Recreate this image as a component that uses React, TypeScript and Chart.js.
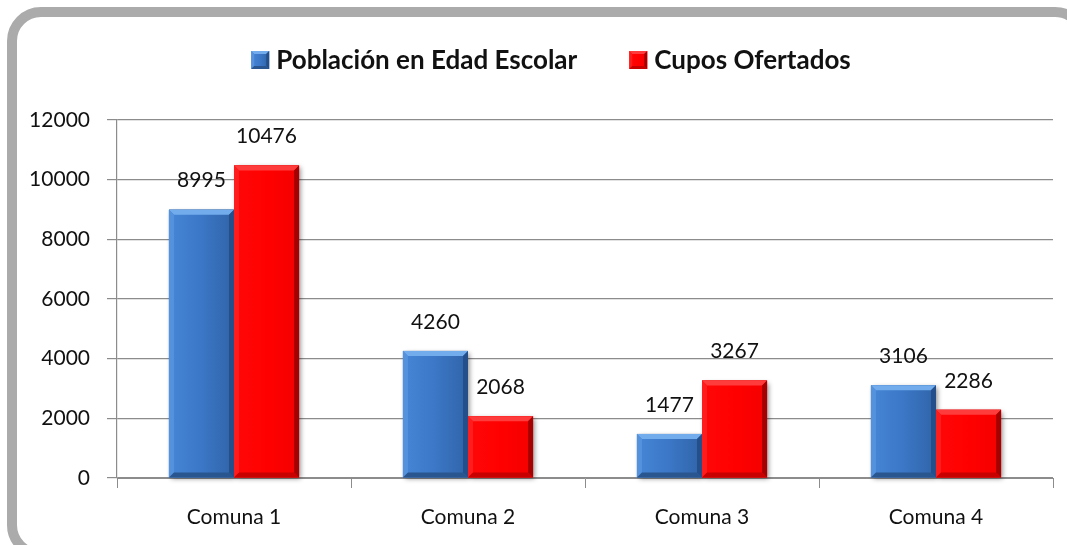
import React, { useEffect, useRef } from "react";
import { Chart, registerables } from "chart.js";

Chart.register(...registerables);

const categories = ["Comuna 1", "Comuna 2", "Comuna 3", "Comuna 4"];
const seriesNames = ["Población en Edad Escolar", "Cupos Ofertados"];
const poblacion = [8995, 4260, 1477, 3106];
const cupos = [10476, 2068, 3267, 2286];
const yMin = 0;
const yMax = 12000;
const yStep = 2000;

const FONT = "Lato, 'Open Sans', sans-serif";

type BevelStyle = {
  left: string;
  mid: string;
  right: string;
  bTop: string;
  bLeft: string;
  bRight: string;
  bBottom: string;
};

const styles: BevelStyle[] = [
  {
    left: "#4686d6",
    mid: "#3b77c6",
    right: "#3064a8",
    bTop: "#72acec",
    bLeft: "#5592de",
    bRight: "#244f8a",
    bBottom: "#2a5690",
  },
  {
    left: "#ff0808",
    mid: "#ff0000",
    right: "#f40000",
    bTop: "#ff3c3c",
    bLeft: "#ff1c1c",
    bRight: "#a60000",
    bBottom: "#c80000",
  },
];

function drawBevel(
  ctx: CanvasRenderingContext2D,
  l: number,
  t: number,
  r: number,
  b: number,
  st: BevelStyle,
  bv: number
) {
  const g = ctx.createLinearGradient(l, 0, r, 0);
  g.addColorStop(0, st.left);
  g.addColorStop(0.5, st.mid);
  g.addColorStop(1, st.right);
  ctx.fillStyle = g;
  ctx.fillRect(l, t, r - l, b - t);
  const poly = (pts: number[][], c: string) => {
    ctx.beginPath();
    ctx.moveTo(pts[0][0], pts[0][1]);
    for (let i = 1; i < pts.length; i++) ctx.lineTo(pts[i][0], pts[i][1]);
    ctx.closePath();
    ctx.fillStyle = c;
    ctx.fill();
  };
  const h = Math.min(bv, (b - t) / 2);
  poly([[l, t], [r, t], [r - h, t + h], [l + h, t + h]], st.bTop);
  poly([[l, t], [l + h, t + h], [l + h, b - h], [l, b]], st.bLeft);
  poly([[r, t], [r, b], [r - h, b - h], [r - h, t + h]], st.bRight);
  poly([[l, b], [l + h, b - h], [r - h, b - h], [r, b]], st.bBottom);
}

const barPlugin = {
  id: "bevelBars",
  beforeDatasetsDraw(chart: any) {
    const ctx = chart.ctx as CanvasRenderingContext2D;
    ctx.save();
    ctx.shadowColor = "rgba(0,0,0,0.45)";
    ctx.shadowBlur = 5;
    ctx.shadowOffsetX = 2;
    ctx.shadowOffsetY = 2;
    chart.data.datasets.forEach((_: any, i: number) => {
      const meta = chart.getDatasetMeta(i);
      meta.data.forEach((el: any) => {
        const p = el.getProps(["x", "y", "base", "width"], true);
        ctx.fillStyle = "#888";
        ctx.fillRect(p.x - p.width / 2, p.y, p.width, p.base - p.y);
      });
    });
    ctx.restore();
  },
  afterDatasetsDraw(chart: any) {
    const ctx = chart.ctx as CanvasRenderingContext2D;
    ctx.save();
    chart.data.datasets.forEach((ds: any, i: number) => {
      const meta = chart.getDatasetMeta(i);
      meta.data.forEach((el: any) => {
        const p = el.getProps(["x", "y", "base", "width"], true);
        drawBevel(ctx, p.x - p.width / 2, p.y, p.x + p.width / 2, p.base, styles[i], 5);
      });
    });
    ctx.fillStyle = "#111";
    ctx.font = `21px ${FONT}`;
    ctx.textAlign = "center";
    ctx.textBaseline = "middle";
    chart.data.datasets.forEach((ds: any, i: number) => {
      const meta = chart.getDatasetMeta(i);
      meta.data.forEach((el: any, j: number) => {
        const p = el.getProps(["x", "y"], true);
        ctx.fillText(String(ds.data[j]), p.x, p.y - 29);
      });
    });
    ctx.restore();
  },
  afterDraw(chart: any) {
    const ctx = chart.ctx as CanvasRenderingContext2D;
    ctx.save();
    ctx.font = `bold 26px ${FONT}`;
    ctx.textBaseline = "middle";
    ctx.textAlign = "left";
    const box = 18;
    const gapText = 7;
    const gapItem = 52;
    const widths = seriesNames.map((n) => ctx.measureText(n).width);
    const total = widths.reduce((a, w) => a + box + gapText + w, 0) + gapItem;
    let x = 551 - total / 2;
    const cy = 60;
    seriesNames.forEach((n, i) => {
      drawBevel(ctx, x, cy - box / 2, x + box, cy + box / 2, styles[i], 3);
      ctx.fillStyle = "#111";
      ctx.fillText(n, x + box + gapText, cy + 1);
      x += box + gapText + widths[i] + gapItem;
    });
    ctx.restore();
  },
};

export default function App() {
  const ref = useRef<HTMLCanvasElement | null>(null);
  useEffect(() => {
    if (!ref.current) return;
    const gridColor = "#8c8c8c";
    const chart = new Chart(ref.current, {
      type: "bar",
      data: {
        labels: categories,
        datasets: [
          { label: seriesNames[0], data: poblacion, backgroundColor: "#3d78c6" },
          { label: seriesNames[1], data: cupos, backgroundColor: "#ff0000" },
        ],
      },
      options: {
        responsive: false,
        animation: false,
        devicePixelRatio: 1,
        layout: { padding: { top: 120, right: 14, left: 0, bottom: 0 } },
        datasets: { bar: { categoryPercentage: 0.556, barPercentage: 1 } },
        plugins: { legend: { display: false }, tooltip: { enabled: false } },
        scales: {
          x: {
            grid: {
              drawOnChartArea: false,
              drawTicks: true,
              tickLength: 10,
              color: gridColor,
              offset: true,
            },
            border: { color: gridColor, width: 1 },
            ticks: { font: { family: FONT, size: 21 }, color: "#111", padding: 17 },
            afterFit: (s: any) => {
              s.height = 67;
            },
          },
          y: {
            min: yMin,
            max: yMax,
            ticks: {
              stepSize: yStep,
              font: { family: FONT, size: 21 },
              color: "#111",
              padding: 17,
              callback: (v: any) => String(v),
            },
            grid: { color: gridColor, tickLength: 10, drawTicks: true, lineWidth: 1.2 },
            border: { color: gridColor, width: 1.2 },
            afterFit: (s: any) => {
              s.width = 117;
            },
          },
        },
      },
      plugins: [barPlugin],
    });
    return () => chart.destroy();
  }, []);

  return (
    <div
      style={{
        position: "fixed",
        left: 0,
        top: 0,
        width: 1067,
        height: 545,
        overflow: "hidden",
        background: "#fff",
      }}
    >
      <div
        style={{
          position: "absolute",
          left: 7,
          top: 7,
          width: 1082,
          height: 552,
          boxSizing: "border-box",
          border: "10px solid #ababab",
          borderRadius: 34,
          background: "#fff",
        }}
      />
      <canvas
        ref={ref}
        width={1067}
        height={545}
        style={{ position: "absolute", left: 0, top: 0, width: 1067, height: 545 }}
      />
    </div>
  );
}
